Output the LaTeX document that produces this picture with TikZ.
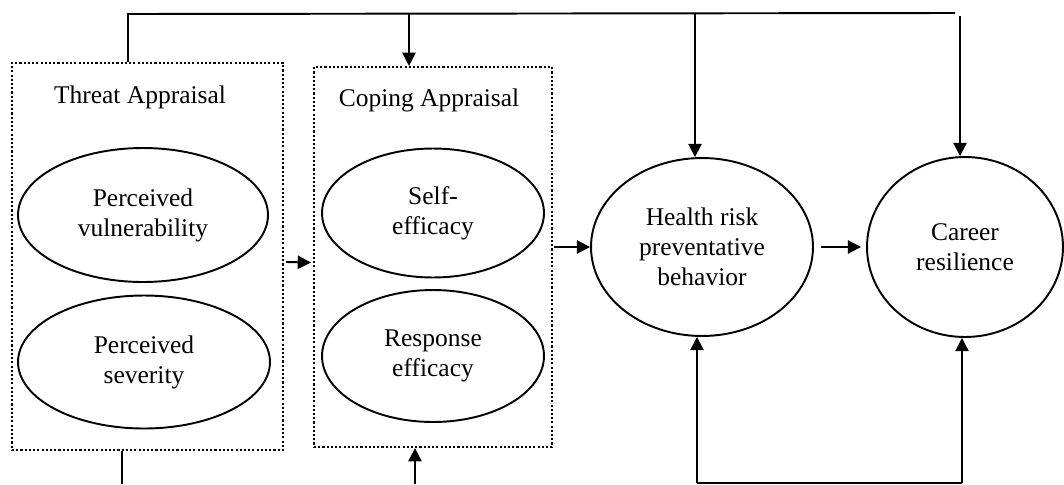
\documentclass[tikz,border=0pt]{standalone}
\usepackage{fontspec}
\setmainfont{Liberation Serif}
\usetikzlibrary{shapes.geometric,arrows.meta,calc}
\begin{document}
\begin{tikzpicture}[x=0.02cm,y=-0.02cm,
  every node/.style={font=\fontsize{14.5}{17}\selectfont, align=center},
  ell/.style={ellipse, draw, line width=1.1pt, inner sep=0pt},
  grp/.style={rectangle, draw, line width=1.3pt, dash pattern=on 1.2pt off 1.2pt, inner sep=0pt},
  conn/.style={line width=1.1pt},
  arr/.style={line width=1.1pt, -{Triangle[length=7.5pt,width=7.5pt]}}]
\useasboundingbox (0,0) rectangle (1064,484);
% groups
\node[grp, minimum width=5.42cm, minimum height=7.74cm] (tb) at (147.5,256.5) {};
\node[grp, minimum width=4.76cm, minimum height=7.6cm] (cb) at (433,257) {};
\node (tt) at (140,97) {Threat Appraisal};
\node (ct) at (429,100) {Coping Appraisal};
% ellipses
\node[ell, minimum width=5.0cm, minimum height=2.68cm] (pv) at (143,215) {Perceived\\vulnerability};
\node[ell, minimum width=5.04cm, minimum height=2.66cm] (ps) at (144,362) {Perceived\\severity};
\node[ell, minimum width=4.44cm, minimum height=2.58cm] (se) at (433,213) {Self-\\efficacy};
\node[ell, minimum width=4.44cm, minimum height=2.64cm] (re) at (433,356) {Response\\efficacy};
\node[ell, minimum width=4.44cm, minimum height=3.56cm] (hr) at (702,247) {Health risk\\preventative\\behavior};
\node[ell, minimum width=3.92cm, minimum height=3.6cm] (cr) at (965,247) {Career\\resilience};
% top connectors
\coordinate (tl) at (128,14);
\coordinate (tr) at (955,13);
\coordinate (t2) at (409,14);
\coordinate (t3) at (695,13);
\coordinate (t4) at (960,16);
\draw[conn] (tb.north -| tl) -- (tl) -- (tr);
\draw[arr] (t2) -- (t2 |- cb.north);
\draw[arr] (t3) -- (t3 |- hr.north);
\draw[arr] (t4) -- (t4 |- cr.north);
% bottom connectors
\coordinate (b1) at (122,484);
\coordinate (b2) at (415,484);
\coordinate (b3) at (697,483);
\coordinate (b4) at (962,483);
\draw[conn] (tb.south -| b1) -- (b1);
\draw[arr] (b2) -- (b2 |- cb.south);
\draw[arr] (b3) -- (b3 |- hr.south);
\draw[arr] (b4) -- (b4 |- cr.south);
\draw[conn] (b3) -- (b4);
% middle arrows
\draw[arr] ($(tb.east)+(2,5.5)$) -- ($(cb.west)+(-2,5.5)$);
\draw[arr] ([xshift=1*0.02cm]cb.east |- hr.west) -- (hr.west);
\draw[arr] ($(hr.east)+(7,0)$) -- ($(cr.west)+(-5,0)$);
\end{tikzpicture}
\end{document}
